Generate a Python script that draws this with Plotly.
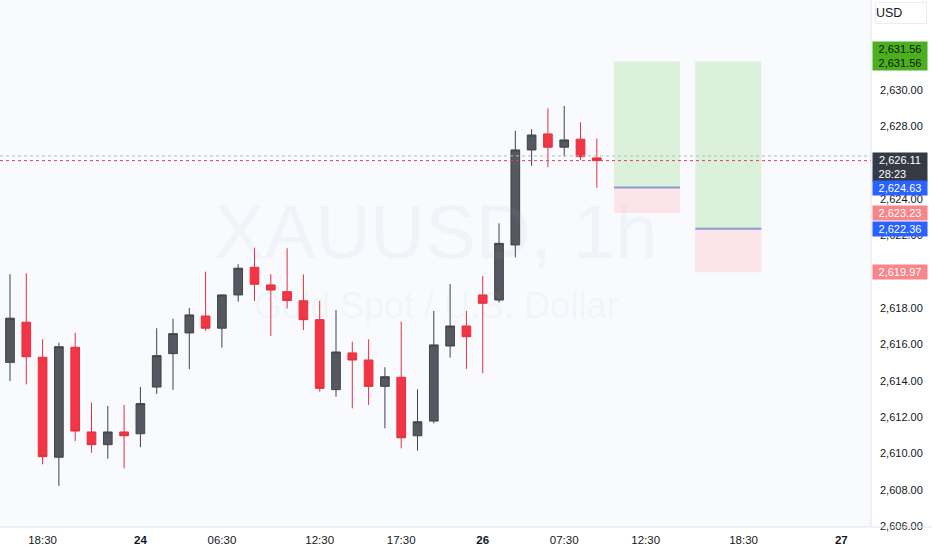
import plotly.graph_objects as go

# ---- data ----
opens  = [2615.01, 2617.22, 2615.29, 2609.79, 2615.84, 2611.18, 2610.48, 2611.18, 2611.08, 2613.65,
          2615.49, 2616.63, 2617.56, 2616.89, 2618.72, 2620.24, 2619.27, 2618.90, 2618.40, 2617.36,
          2613.51, 2615.53, 2615.14, 2613.69, 2614.19, 2610.97, 2611.78, 2615.91, 2617.01, 2618.72,
          2618.44, 2621.47, 2626.70, 2627.58, 2626.85, 2627.29, 2626.26]
highs  = [2619.86, 2619.91, 2616.28, 2616.09, 2616.64, 2612.79, 2612.61, 2612.66, 2613.65, 2616.89,
          2617.41, 2618.00, 2620.00, 2618.75, 2620.41, 2621.32, 2619.86, 2621.29, 2619.85, 2618.40,
          2617.89, 2616.15, 2616.28, 2614.74, 2617.25, 2613.53, 2617.84, 2619.32, 2617.84, 2619.76,
          2622.66, 2627.76, 2627.84, 2628.99, 2629.12, 2628.22, 2627.32]
lows   = [2613.98, 2613.80, 2609.40, 2608.21, 2610.68, 2610.04, 2609.71, 2609.18, 2610.34, 2613.27,
          2613.49, 2614.63, 2616.75, 2615.82, 2618.35, 2618.39, 2616.46, 2617.97, 2616.79, 2613.40,
          2613.12, 2612.48, 2612.66, 2611.38, 2610.28, 2610.15, 2611.66, 2615.27, 2614.65, 2614.41,
          2618.30, 2620.79, 2625.82, 2625.75, 2626.33, 2626.15, 2624.62]
closes = [2617.44, 2615.32, 2609.82, 2615.87, 2611.23, 2610.48, 2611.18, 2610.97, 2612.74, 2615.38,
          2616.59, 2617.62, 2616.89, 2618.72, 2620.19, 2619.31, 2618.99, 2618.41, 2617.36, 2613.58,
          2615.58, 2615.14, 2613.69, 2614.22, 2610.86, 2611.74, 2615.97, 2617.01, 2616.42, 2618.26,
          2621.56, 2626.70, 2627.52, 2626.85, 2627.25, 2626.33, 2626.11]
bar_index = list(range(len(closes)))

x_tick_pos  = [2, 8, 13, 19, 24, 29, 34, 39, 45, 51]
x_tick_text = ["18:30", "<b>24</b>", "06:30", "12:30", "17:30", "<b>26</b>", "07:30", "12:30", "18:30", "<b>27</b>"]

# price-axis labels that are visible (2,620 and 2,626 are covered by price tags)
y_ticks = [2606, 2608, 2610, 2612, 2614, 2616, 2618, 2622, 2624, 2628, 2630]

# long positions (bar-index spans, prices)
pos_start  = [37.06, 42.04]
pos_end    = [41.10, 46.09]
pos_entry  = [2624.63, 2622.36]
pos_target = [2631.56, 2631.56]
pos_stop   = [2623.23, 2619.97]

last_price = 2626.11
prev_line = 2626.37
countdown = "28:23"

FONT = "Liberation Sans, Arial, sans-serif"
TXT = "#131722"
BG = "#f8fafd"

fig = go.Figure()
fig.add_trace(go.Candlestick(
    x=bar_index, open=opens, high=highs, low=lows, close=closes,
    increasing=dict(fillcolor="#55585f", line=dict(color="#40434b", width=1)),
    decreasing=dict(fillcolor="#f23645", line=dict(color="#e4303f", width=1)),
    whiskerwidth=0, hoverinfo="skip", showlegend=False,
))

shapes = []
for xs, xe, en, tg, st in zip(pos_start, pos_end, pos_entry, pos_target, pos_stop):
    shapes.append(dict(type="rect", xref="x", yref="y", x0=xs, x1=xe, y0=en, y1=tg,
                       fillcolor="rgba(205,236,200,0.65)", line=dict(width=0), layer="below"))
    shapes.append(dict(type="rect", xref="x", yref="y", x0=xs, x1=xe, y0=st, y1=en,
                       fillcolor="rgba(252,222,226,0.75)", line=dict(width=0), layer="below"))
    shapes.append(dict(type="line", xref="x", yref="y", x0=xs, x1=xe, y0=en, y1=en,
                       line=dict(color="#8b9bd2", width=2)))
# price lines
shapes.append(dict(type="line", xref="paper", yref="y", x0=0, x1=1, y0=prev_line, y1=prev_line,
                   line=dict(color="#b9bcc6", width=1, dash="dot")))
shapes.append(dict(type="line", xref="paper", yref="y", x0=0, x1=1, y0=last_price, y1=last_price,
                   line=dict(color="#d6465a", width=1, dash="dot")))
# axis borders
shapes.append(dict(type="line", xref="paper", yref="paper", x0=1, x1=1, y0=0, y1=1,
                   line=dict(color="#e0e3eb", width=1)))
shapes.append(dict(type="line", xref="paper", yref="paper", x0=0, x1=1.08, y0=0, y1=0,
                   line=dict(color="#e0e3eb", width=1)))

annotations = []
# watermark
annotations.append(dict(text="XAUUSD, 1h", xref="paper", yref="paper", x=0.5, y=0.56,
                        showarrow=False, font=dict(family=FONT, size=76, color="rgba(150,165,195,0.08)")))
annotations.append(dict(text="Gold Spot / U.S. Dollar", xref="paper", yref="paper", x=0.5, y=0.42,
                        showarrow=False, font=dict(family=FONT, size=36, color="rgba(150,165,195,0.08)")))


def tag(price, text, bg, fg, yshift=0):
    annotations.append(dict(text=text, xref="paper", yref="y", x=1, y=price, xanchor="left",
                            xshift=1, yshift=yshift, showarrow=False, align="center", width=52,
                            bgcolor=bg, borderpad=1, font=dict(family=FONT, size=11, color=fg)))


tag(pos_target[0], f"{pos_target[0]:,.2f}<br>{pos_target[1]:,.2f}", "#4caf1f", "#0b1a05", yshift=6)
tag(last_price, f"{last_price:,.2f}<br>{countdown}&nbsp;&nbsp;&nbsp;&nbsp;&nbsp;", "#363a45", "#ffffff", yshift=-6)
tag(pos_entry[0], f"{pos_entry[0]:,.2f}", "#2962ff", "#ffffff")
tag(pos_stop[0], f"{pos_stop[0]:,.2f}", "#f7858a", "#ffffff")
tag(pos_entry[1], f"{pos_entry[1]:,.2f}", "#2962ff", "#ffffff")
tag(pos_stop[1], f"{pos_stop[1]:,.2f}", "#f7858a", "#ffffff")

annotations.append(dict(text="USD", xref="paper", yref="paper", x=1, y=1, xanchor="left", yanchor="top",
                        xshift=4, yshift=-2, showarrow=False, align="left", width=50, height=20,
                        bgcolor="#ffffff", bordercolor="#eceef2", borderwidth=1, borderpad=0,
                        font=dict(family=FONT, size=12.5, color=TXT)))

fig.update_layout(
    width=932, height=550,
    margin=dict(l=0, r=61, t=0, b=23),
    paper_bgcolor="#ffffff", plot_bgcolor=BG,
    boxgap=0.24,
    shapes=shapes, annotations=annotations,
    showlegend=False,
    xaxis=dict(range=[-0.613, 52.82], rangeslider=dict(visible=False), showgrid=False, zeroline=False,
               tickmode="array", tickvals=x_tick_pos, ticktext=x_tick_text, ticks="",
               ticklabelstandoff=4,
               tickfont=dict(family=FONT, size=11.5, color=TXT), fixedrange=True),
    yaxis=dict(range=[2605.95, 2634.95], side="right", showgrid=False, zeroline=False,
               tickmode="array", tickvals=y_ticks, tickformat=",.2f", ticks="",
               ticklabelstandoff=8,
               tickfont=dict(family=FONT, size=11, color=TXT), fixedrange=True),
)

fig.write_html("out.html", post_script="document.body.style.margin='0px';",
               config={"displayModeBar": False})
